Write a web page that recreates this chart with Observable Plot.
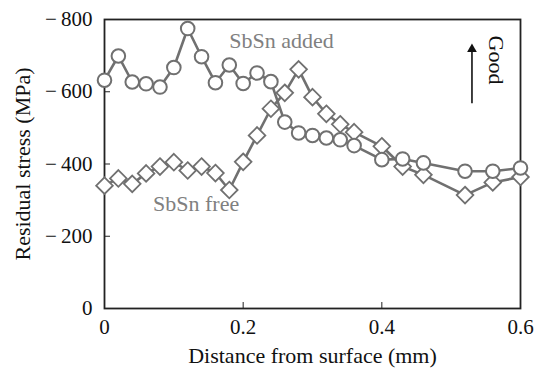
<!DOCTYPE html>
<html>
<head>
<meta charset="utf-8">
<script src="https://cdn.jsdelivr.net/npm/d3@7"></script>
<script src="https://cdn.jsdelivr.net/npm/@observablehq/plot@0.6"></script>
<style>
  html, body { margin: 0; padding: 0; background: #fff; }
  #chart svg { display: block; }
</style>
</head>
<body>
<div id="chart"></div>
<script>
// SbSn added (circles)
const addedX = [0, 0.02, 0.04, 0.06, 0.08, 0.10, 0.12, 0.14, 0.16, 0.18, 0.20, 0.22, 0.24, 0.26, 0.28, 0.30, 0.32, 0.34, 0.36, 0.40, 0.43, 0.46, 0.52, 0.56, 0.60];
const addedY = [632, 699, 627, 622, 613, 667, 775, 697, 625, 674, 623, 652, 628, 516, 486, 479, 472, 467, 451, 412, 414, 403, 380, 380, 389];
// SbSn free (diamonds)
const freeX = [0, 0.02, 0.04, 0.06, 0.08, 0.10, 0.12, 0.14, 0.16, 0.18, 0.20, 0.22, 0.24, 0.26, 0.28, 0.30, 0.32, 0.34, 0.36, 0.40, 0.43, 0.46, 0.52, 0.56, 0.60];
const freeY = [340, 360, 345, 374, 393, 405, 382, 393, 375, 328, 406, 479, 553, 597, 662, 585, 539, 510, 488, 449, 393, 370, 314, 349, 364];

const xTicks = [0, 0.2, 0.4, 0.6];
const xTickLabels = ["0", "0.2", "0.4", "0.6"];
const yTicks = [0, 200, 400, 600, 800];
const yTickLabels = ["0", "\u2212\u2009200", "\u2212\u2009400", "\u2212\u2009600", "\u2212\u2009800"];
const xTitle = "Distance from surface (mm)";
const yTitle = "Residual stress (MPa)";

const seriesLabels = [
  {x: 0.180, y: 740, text: "SbSn added"},
  {x: 0.070, y: 290, text: "SbSn free"}
];
const goodArrow = {x: 0.530, y1: 567, y2: 716, tip: 718};
const goodLabel = {x: 0.565, y: 688, text: "Good"};

const added = addedX.map((x, i) => ({x, y: addedY[i]}));
const free = freeX.map((x, i) => ({x, y: freeY[i]}));

const gray = "#707070";
const font = "Liberation Serif";

const chart = Plot.plot({
  width: 535,
  height: 370,
  marginLeft: 104,
  marginRight: 15,
  marginTop: 19,
  marginBottom: 62,
  style: {fontFamily: font, fontSize: "21px", color: "#111", background: "white"},
  x: {domain: [0, 0.6]},
  y: {domain: [0, 800]},
  marks: [
    Plot.frame({stroke: "#222", strokeWidth: 1.8}),
    Plot.axisX({ticks: xTicks, tickSize: -6, tickFormat: () => "", label: null, stroke: "#222"}),
    Plot.axisY({ticks: yTicks, tickSize: -6, tickFormat: () => "", label: null, stroke: "#222"}),
    Plot.axisX({ticks: xTicks, tickSize: 0, tickPadding: 11, tickFormat: (d, i) => xTickLabels[i],
      fontSize: 21, fontFamily: font, fill: "#111", label: null}),
    Plot.axisY({ticks: yTicks, tickSize: 0, tickPadding: 12, tickFormat: (d, i) => yTickLabels[i],
      fontSize: 21, fontFamily: font, fill: "#111", label: null}),
    Plot.text([xTitle], {frameAnchor: "bottom", dy: 47, textAnchor: "middle", lineAnchor: "middle",
      text: d => d, fontSize: 22, fontFamily: font, fill: "#111"}),
    Plot.text([yTitle], {frameAnchor: "left", dx: -82, rotate: -90, textAnchor: "middle", lineAnchor: "middle",
      text: d => d, fontSize: 22, fontFamily: font, fill: "#111"}),
    Plot.line(added, {x: "x", y: "y", stroke: gray, strokeWidth: 2.6}),
    Plot.line(free, {x: "x", y: "y", stroke: gray, strokeWidth: 2.6}),
    Plot.dot(free, {x: "x", y: "y", symbol: "diamond2", r: 7.5, fill: "white", stroke: gray, strokeWidth: 1.8}),
    Plot.dot(added, {x: "x", y: "y", symbol: "circle", r: 6.8, fill: "white", stroke: gray, strokeWidth: 2}),
    Plot.text(seriesLabels, {x: "x", y: "y", text: "text", textAnchor: "start", fill: "#808080", fontSize: 22, fontFamily: font}),
    Plot.ruleX([goodArrow], {x: "x", y1: "y1", y2: "y2", stroke: "#111", strokeWidth: 1.6}),
    Plot.dot([goodArrow], {x: "x", y: "tip", symbol: "triangle", r: 3.6, fill: "#111", stroke: "none"}),
    Plot.text([goodLabel], {x: "x", y: "y", text: "text", rotate: 90, fill: "#111", fontSize: 22, fontFamily: font})
  ]
});
document.getElementById("chart").appendChild(chart);
</script>
</body>
</html>
